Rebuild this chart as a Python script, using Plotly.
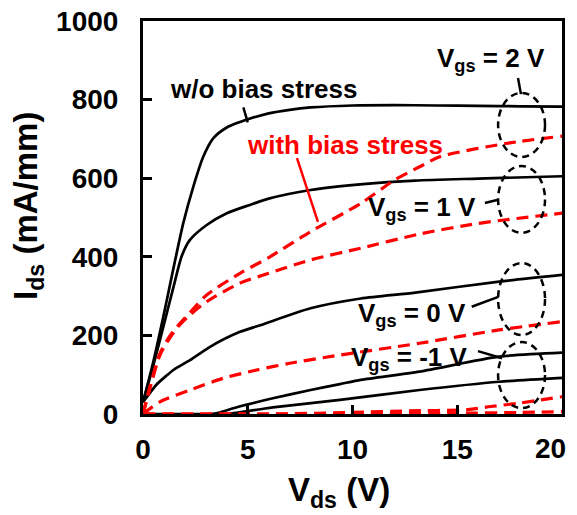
import plotly.graph_objects as go

# ---- data (w/o bias stress, solid black) ----
b2_x = [0, 0.5, 1.0, 1.45, 1.92, 2.4, 2.88, 3.36, 4.0, 4.63, 5.0, 6.0, 7.0, 8.0, 10, 12, 14, 16, 18, 20]
b2_y = [30, 135, 255, 370, 485, 578, 655, 702, 729, 743, 750, 765, 774, 780, 785, 786, 785, 784, 783, 782]
b1_x = [0, 0.5, 1.0, 1.45, 1.85, 2.24, 3.04, 4.0, 5.1, 6.0, 8.0, 10.5, 13, 16, 20]
b1_y = [30, 125, 228, 322, 402, 443, 481, 511, 532, 548, 570, 585, 594, 599, 605]
b0_x = [0, 0.65, 1.13, 1.45, 2.24, 3.2, 4.63, 5.6, 8.0, 10.4, 13.0, 17.0, 20]
b0_y = [30, 75, 98, 112, 137, 171, 209, 226, 269, 294, 309, 337, 354]
bm1_x = [0, 3.3, 3.6, 4.6, 6.2, 8.0, 9.4, 10.4, 13.2, 17.0, 20]
bm1_y = [0, 0, 3, 19, 40, 61, 76, 87, 108, 146, 156]
bm2_x = [0, 3.9, 4.3, 5.6, 6.2, 9.4, 13.2, 17.0, 20]
bm2_y = [0, 0, 2, 12, 17, 36, 61, 82, 92]

# ---- data (with bias stress, dashed red) ----
r2_x = [0, 0.33, 0.81, 1.3, 1.77, 2.24, 3.04, 4.63, 6.0, 8.0, 10.4, 12.0, 13.2, 14.2, 17.4, 20]
r2_y = [0, 69, 154, 200, 231, 258, 303, 358, 398, 464, 536, 595, 629, 655, 689, 707]
r1_x = [0, 0.33, 0.81, 1.3, 1.77, 2.24, 3.04, 4.63, 6.0, 8.0, 10.4, 13.2, 16.0, 20]
r1_y = [0, 65, 150, 195, 228, 252, 286, 333, 358, 392, 422, 458, 485, 511]
r0_x = [0, 0.81, 2.24, 3.83, 5.43, 7.0, 9.4, 13.2, 17.0, 20]
r0_y = [0, 31, 61, 91, 112, 129, 150, 180, 214, 235]
rm1_x = [0, 6.0, 10.0, 12.7, 15.5, 16.6, 18.0, 20]
rm1_y = [0, 0, 4, 8, 11, 19, 28, 44]
rm2_x = [0, 10.0, 15.0, 18.0, 20]
rm2_y = [0, 0, 2, 4, 6]

x_ticks = [0, 5, 10, 15, 20]
x_tick_labels = ["0", "5", "10", "15", "20"]
y_ticks = [0, 200, 400, 600, 800, 1000]
y_tick_labels = ["0", "200", "400", "600", "800", "1000"]

FONT = "Arial, Liberation Sans, sans-serif"
TICKFONT = dict(family=FONT, size=28, color="black", weight="bold")

fig = go.Figure()
for xs, ys in [(b2_x, b2_y), (b1_x, b1_y), (b0_x, b0_y), (bm1_x, bm1_y), (bm2_x, bm2_y)]:
    fig.add_trace(go.Scatter(x=xs, y=ys, mode="lines",
                             line=dict(color="black", width=2.7, shape="spline", smoothing=0.7),
                             showlegend=False, hoverinfo="skip"))
for xs, ys in [(r2_x, r2_y), (r1_x, r1_y), (r0_x, r0_y), (rm1_x, rm1_y), (rm2_x, rm2_y)]:
    fig.add_trace(go.Scatter(x=xs, y=ys, mode="lines",
                             line=dict(color="#ff0000", width=3.2, dash="12px,7px", shape="spline", smoothing=0.7),
                             showlegend=False, hoverinfo="skip"))

# dashed ellipses
ellipses = [(16.95, 19.19, 654, 817), (16.95, 19.19, 461, 631), (16.95, 19.19, 201, 384), (16.95, 19.19, 15, 183)]
for x0, x1, y0, y1 in ellipses:
    fig.add_shape(type="circle", xref="x", yref="y", x0=x0, x1=x1, y0=y0, y1=y1,
                  line=dict(color="black", width=2.5, dash="7px,5px"))

# pointer lines
pointers = [
    (4.79, 780, 5.0, 742, "black"),
    (7.35, 651, 8.35, 489, "#ff0000"),
    (17.9, 855, 18.04, 814, "black"),
    (16.32, 537, 16.95, 545, "black"),
    (15.69, 273, 16.96, 298, "black"),
    (15.99, 160, 17.14, 142, "black"),
]
for x0, y0, x1, y1, c in pointers:
    fig.add_shape(type="line", xref="x", yref="y", x0=x0, y0=y0, x1=x1, y1=y1,
                  line=dict(color=c, width=2.5))

labels = [
    (5.73, 827, "w/o bias stress", "black"),
    (9.64, 684, "with bias stress", "#ff0000"),
    (16.61, 901, "V<sub>gs</sub> = 2 V", "black"),
    (13.3, 522, "V<sub>gs</sub> = 1 V", "black"),
    (12.82, 252, "V<sub>gs</sub> = 0 V", "black"),
    (12.7, 142, "V<sub>gs</sub> = -1 V", "black"),
]
for x, y, t, c in labels:
    fig.add_annotation(x=x, y=y, xref="x", yref="y", text=t, showarrow=False,
                       font=dict(family=FONT, size=26, color=c, weight="bold"),
                       xanchor="center", yanchor="middle")

# axis titles
fig.add_annotation(x=-0.274, y=0.53, xref="paper", yref="paper", text="I<sub>ds</sub> (mA/mm)",
                   textangle=-90, showarrow=False, xanchor="center", yanchor="middle",
                   font=dict(family=FONT, size=33, color="black", weight="bold"))
fig.add_annotation(x=0.468, y=-0.198, xref="paper", yref="paper", text="V<sub>ds</sub> (V)",
                   showarrow=False, xanchor="center", yanchor="middle",
                   font=dict(family=FONT, size=33, color="black", weight="bold"))

# last x tick label, kept inside the window edge (right-aligned at its tick like the reference)
fig.add_annotation(x=x_ticks[-1], y=-0.089, xref="x", yref="paper", text=x_tick_labels[-1],
                   showarrow=False, xanchor="right", yanchor="middle", xshift=6, font=TICKFONT)

axis_common = dict(showgrid=False, zeroline=False, showline=True, linecolor="black", linewidth=3,
                   mirror=True, ticks="inside", ticklen=9, tickwidth=3, tickcolor="black",
                   ticklabeloverflow="allow", automargin=False, tickfont=TICKFONT)
fig.update_xaxes(range=[0, 20], tickvals=x_ticks, ticktext=x_tick_labels[:-1] + [""],
                 ticklabelstandoff=8, **axis_common)
fig.update_yaxes(range=[0, 1000], tickvals=y_ticks, ticktext=y_tick_labels,
                 ticklabelstandoff=16, **axis_common)

# the page body adds an 8px margin, so the figure is sized to fill the rest of the window
fig.update_layout(width=569, height=507, margin=dict(l=135, r=15, t=13, b=101),
                  paper_bgcolor="white", plot_bgcolor="white")
fig.write_html("out.html")
